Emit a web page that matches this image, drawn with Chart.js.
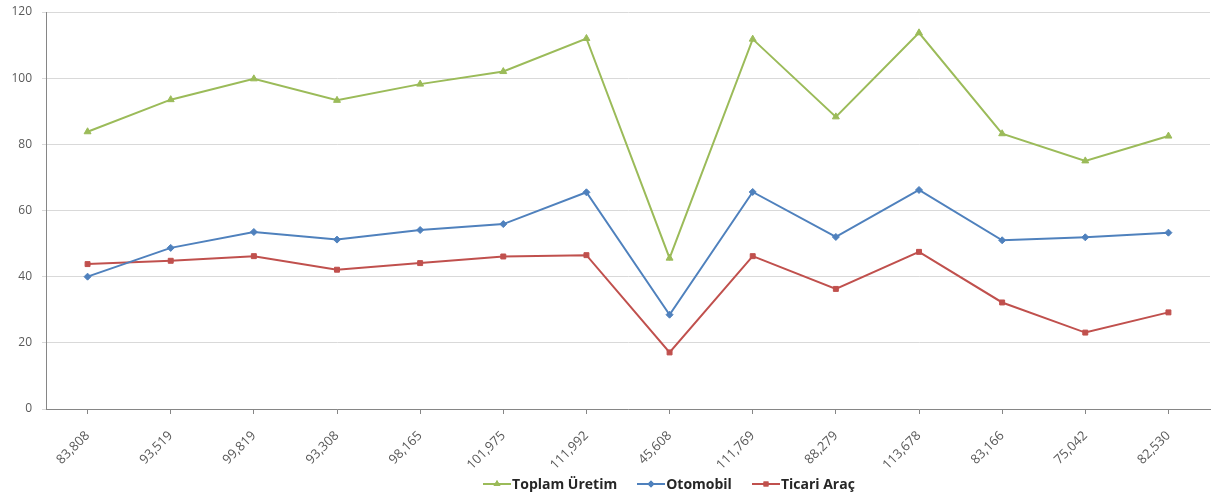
<!DOCTYPE html>
<html>
<head>
<meta charset="utf-8">
<script src="https://cdn.jsdelivr.net/npm/chart.js@4"></script>
<style>
    html, body { margin: 0; padding: 0; background: #fff; }
    #wrap { position: relative; width: 1215px; height: 499px; }
    #legend {
        position: absolute; left: 123px; right: 0; top: 474px;
        display: flex; justify-content: center; gap: 20px;
        font-family: "Open Sans", Lato, sans-serif; font-weight: bold; font-size: 14px; color: #262626;
    }
    .item { display: flex; align-items: center; gap: 1px; }
    .item canvas { display: block; }
</style>
</head>
<body>
<div id="wrap">
    <canvas id="chart" width="1215" height="499"></canvas>
    <div id="legend"></div>
</div>
<script>
// ============= Data =============
const categories = ['83,808', '93,519', '99,819', '93,308', '98,165', '101,975', '111,992',
    '45,608', '111,769', '88,279', '113,678', '83,166', '75,042', '82,530'];
const toplamUretim = [83.8, 93.5, 99.8, 93.3, 98.2, 102.0, 112.0, 45.6, 111.8, 88.3, 113.7, 83.2, 75.0, 82.5];
const otomobil = [40.0, 48.7, 53.5, 51.2, 54.1, 55.9, 65.5, 28.5, 65.6, 52.0, 66.2, 51.0, 51.9, 53.3];
const ticariArac = [43.8, 44.8, 46.2, 42.1, 44.1, 46.1, 46.5, 17.1, 46.2, 36.3, 47.5, 32.2, 23.1, 29.2];
const yTicks = [0, 20, 40, 60, 80, 100, 120];

const series = [
    { label: 'Toplam Üretim', data: toplamUretim, color: '#9BBB59', style: 'triangle', radius: 4 },
    { label: 'Otomobil', data: otomobil, color: '#4F81BD', style: 'rectRot', radius: 3.5 },
    { label: 'Ticari Araç', data: ticariArac, color: '#C0504D', style: 'rect', radius: 3.5 }
];

const FONT = '"Open Sans", Lato, sans-serif';

new Chart(document.getElementById('chart'), {
    type: 'line',
    data: {
        labels: categories,
        datasets: series.map(s => ({
            label: s.label,
            data: s.data,
            borderColor: s.color,
            backgroundColor: s.color,
            borderWidth: 2,
            pointStyle: s.style,
            pointRadius: s.radius,
            pointBorderWidth: 1,
            tension: 0
        }))
    },
    options: {
        responsive: false,
        animation: false,
        layout: { padding: { top: 12, right: 3, bottom: 30, left: 0 } },
        plugins: { legend: { display: false }, tooltip: { enabled: false } },
        scales: {
            x: {
                offset: true,
                grid: { drawOnChartArea: false, drawTicks: true, tickLength: 5, color: '#868686' },
                border: { color: '#868686' },
                ticks: { color: '#595959', font: { family: FONT, size: 13 }, minRotation: 45, maxRotation: 45, padding: 14 },
                afterFit: s => { s.height = 60; s.paddingTop = 0; s.paddingBottom = 0; }
            },
            y: {
                min: 0,
                max: 120,
                afterBuildTicks: s => { s.ticks = yTicks.map(v => ({ value: v })); },
                grid: { color: '#D9D9D9', drawTicks: true, tickLength: 4 },
                border: { color: '#868686' },
                ticks: { color: '#595959', font: { family: FONT, size: 12 }, padding: 10 },
                afterFit: s => { s.width = 46; s.paddingTop = 0; s.paddingBottom = 0; }
            }
        }
    }
});

// Excel-like legend: line segment with marker
const legend = document.getElementById('legend');
series.forEach(s => {
    const item = document.createElement('div');
    item.className = 'item';
    const c = document.createElement('canvas');
    c.width = 28; c.height = 12;
    const g = c.getContext('2d');
    g.strokeStyle = s.color; g.lineWidth = 2;
    g.beginPath(); g.moveTo(0, 6); g.lineTo(28, 6); g.stroke();
    g.fillStyle = s.color;
    g.beginPath();
    Chart.helpers.drawPoint(g, { pointStyle: s.style, radius: s.radius, borderWidth: 0 }, 14, 6);
    g.fill();
    const t = document.createElement('span');
    t.textContent = s.label;
    item.appendChild(c);
    item.appendChild(t);
    legend.appendChild(item);
});
</script>
</body>
</html>
